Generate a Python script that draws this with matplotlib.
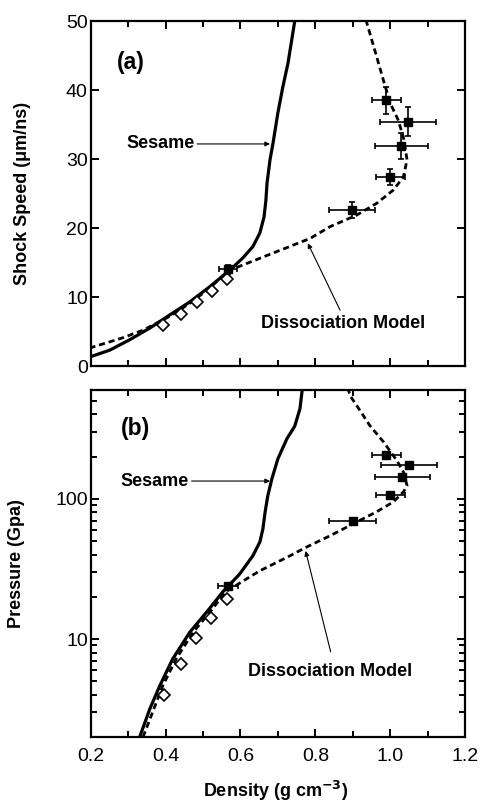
import numpy as np
import matplotlib
matplotlib.use("Agg")
import matplotlib.pyplot as plt
from matplotlib.ticker import (MultipleLocator, LogLocator, NullFormatter,
                               FixedLocator, FixedFormatter, FormatStrFormatter)

plt.rcParams['font.family'] = ['Liberation Sans', 'DejaVu Sans']

# ---- panel (a): shock speed vs density ----
sesame_rho_a = [0.197, 0.251, 0.304, 0.358, 0.411, 0.465, 0.518, 0.572, 0.607,
                0.633, 0.652, 0.663, 0.668, 0.671, 0.679, 0.687, 0.700, 0.713,
                0.727, 0.745]
sesame_us_a = [1.3, 2.3, 3.8, 5.5, 7.4, 9.3, 11.5, 13.9, 15.7,
               17.3, 19.3, 21.6, 24.0, 26.5, 29.9, 32.3, 36.7, 40.4,
               43.9, 50.0]

diss_rho_a = [0.197, 0.286, 0.340, 0.411, 0.465, 0.518, 0.567, 0.786, 0.839,
              0.911, 0.964, 1.008, 1.035, 1.045, 1.035, 1.021, 1.000, 0.982,
              0.964, 0.941, 0.936]
diss_us_a = [2.6, 4.1, 5.2, 7.2, 9.1, 11.3, 13.8, 18.5, 20.2,
             21.9, 23.6, 25.5, 27.4, 29.9, 33.2, 35.7, 38.1, 41.4,
             44.8, 49.1, 50.0]

gas_rho_a = [0.393, 0.441, 0.483, 0.523, 0.563]
gas_us_a = [5.9, 7.6, 9.3, 10.9, 12.6]

exp_rho_a = [0.567, 0.898, 1.000, 1.030, 0.990, 1.048]
exp_us_a = [14.0, 22.6, 27.4, 31.9, 38.5, 35.4]
exp_rho_err_a = [0.023, 0.062, 0.039, 0.071, 0.039, 0.074]
exp_us_err_a = [0.6, 1.2, 1.1, 1.9, 2.0, 2.1]

# ---- panel (b): pressure vs density ----
sesame_rho_b = [0.331, 0.358, 0.384, 0.419, 0.465, 0.510, 0.553, 0.598, 0.633,
                0.652, 0.660, 0.666, 0.673, 0.684, 0.700, 0.724, 0.745, 0.759,
                0.765]
sesame_p_b = [2.0, 3.17, 4.6, 7.2, 11.2, 15.6, 21.7, 29.1, 39.2,
              49.3, 61, 80.7, 105, 139, 193, 268, 330, 440,
              600]

diss_rho_b = [0.340, 0.392, 0.428, 0.474, 0.519, 0.560, 0.572, 0.650, 0.732,
              0.772, 0.839, 0.911, 0.964, 1.008, 1.035, 1.045, 1.035, 1.018,
              0.982, 0.946, 0.911, 0.893, 0.888]
diss_p_b = [2.0, 4.6, 7.2, 11.2, 15.6, 21.7, 22.7, 30.5, 39.2,
            44.7, 54.5, 68.5, 81, 95, 112, 124, 156, 187,
            255, 332, 461, 544, 600]

gas_rho_b = [0.396, 0.442, 0.482, 0.522, 0.564]
gas_p_b = [4.0, 6.6, 10.2, 14.1, 19.3]

exp_rho_b = [0.567, 0.900, 1.000, 1.032, 0.990, 1.050]
exp_p_b = [24, 70, 107, 143, 206, 175]
exp_rho_err_b = [0.027, 0.063, 0.039, 0.073, 0.039, 0.074]

fig = plt.figure(figsize=(4.82, 8.02), dpi=100)
ax1 = fig.add_axes([0.188, 0.5436, 0.777, 0.430])
ax2 = fig.add_axes([0.188, 0.081, 0.777, 0.433])

dash = (0, (2.2, 1.4))
arrow = dict(arrowstyle='-|>', color='k', lw=0.8, mutation_scale=7,
             shrinkA=0, shrinkB=0)


def style_axes(ax):
    for s in ax.spines.values():
        s.set_linewidth(1.6)
    ax.tick_params(which='both', direction='in', top=True, right=True,
                   width=1.4, labelsize=14)
    ax.tick_params(which='major', length=6)
    ax.tick_params(which='minor', length=4)
    ax.tick_params(axis='x', pad=8)
    ax.tick_params(axis='y', pad=2)
    ax.set_xlim(0.2, 1.2)
    ax.xaxis.set_major_locator(MultipleLocator(0.2))
    ax.xaxis.set_minor_locator(MultipleLocator(0.1))
    ax.xaxis.set_major_formatter(FormatStrFormatter('%.1f'))


# panel (a)
ax1.plot(sesame_rho_a, sesame_us_a, color='k', lw=2.3)
ax1.plot(diss_rho_a, diss_us_a, color='k', lw=2.0, linestyle=dash)
ax1.plot(gas_rho_a, gas_us_a, linestyle='none', marker='D', ms=6.5,
         mfc='white', mec='k', mew=1.2)
ax1.errorbar(exp_rho_a, exp_us_a, xerr=exp_rho_err_a, yerr=exp_us_err_a,
             fmt='s', color='k', ms=5.5, elinewidth=1.2, capsize=2.5,
             capthick=1.2)
style_axes(ax1)
ax1.set_ylim(0, 50)
ax1.yaxis.set_major_locator(MultipleLocator(10))
ax1.tick_params(axis='x', labelbottom=False)
ax1.set_ylabel('Shock Speed (\u03bcm/ns)', fontsize=13, fontweight='bold')
ax1.yaxis.set_label_coords(-0.16, 0.5)
ax1.text(0.27, 44, '(a)', fontsize=16.5, fontweight='bold', va='center')
ax1.annotate('Sesame', xy=(0.679, 32.2), xytext=(0.295, 32.2),
             fontsize=13, fontweight='bold', va='center', arrowprops=arrow)
ax1.annotate('', xy=(0.78, 17.8), xytext=(0.866, 8.1), arrowprops=arrow)
ax1.text(0.655, 6.2, 'Dissociation Model', fontsize=13, fontweight='bold',
         va='center')

# panel (b)
ax2.plot(sesame_rho_b, sesame_p_b, color='k', lw=2.3)
ax2.plot(diss_rho_b, diss_p_b, color='k', lw=2.0, linestyle=dash)
ax2.plot(gas_rho_b, gas_p_b, linestyle='none', marker='D', ms=6.5,
         mfc='white', mec='k', mew=1.2)
ax2.errorbar(exp_rho_b, exp_p_b, xerr=exp_rho_err_b,
             fmt='s', color='k', ms=5.5, elinewidth=1.2, capsize=2.5,
             capthick=1.2)
ax2.set_yscale('log')
style_axes(ax2)
ax2.set_ylim(2, 600)
ax2.yaxis.set_major_locator(FixedLocator([10, 100]))
ax2.yaxis.set_major_formatter(FixedFormatter(['10', '100']))
ax2.yaxis.set_minor_locator(LogLocator(base=10, subs=np.arange(2, 10)))
ax2.yaxis.set_minor_formatter(NullFormatter())
ax2.set_ylabel('Pressure (Gpa)', fontsize=13, fontweight='bold')
ax2.yaxis.set_label_coords(-0.176, 0.5)
ax2.set_xlabel('Density (g cm$^{\\mathbf{-3}}$)', fontsize=13,
               fontweight='bold')
ax2.xaxis.set_label_coords(0.495, -0.12)
ax2.text(0.28, 320, '(b)', fontsize=16.5, fontweight='bold', va='center')
ax2.annotate('Sesame', xy=(0.679, 134), xytext=(0.28, 134),
             fontsize=13, fontweight='bold', va='center', arrowprops=arrow)
ax2.annotate('', xy=(0.774, 42.5), xytext=(0.841, 8.1), arrowprops=arrow)
ax2.text(0.62, 5.9, 'Dissociation Model', fontsize=13, fontweight='bold',
         va='center')

fig.savefig('out.png', dpi=100)
